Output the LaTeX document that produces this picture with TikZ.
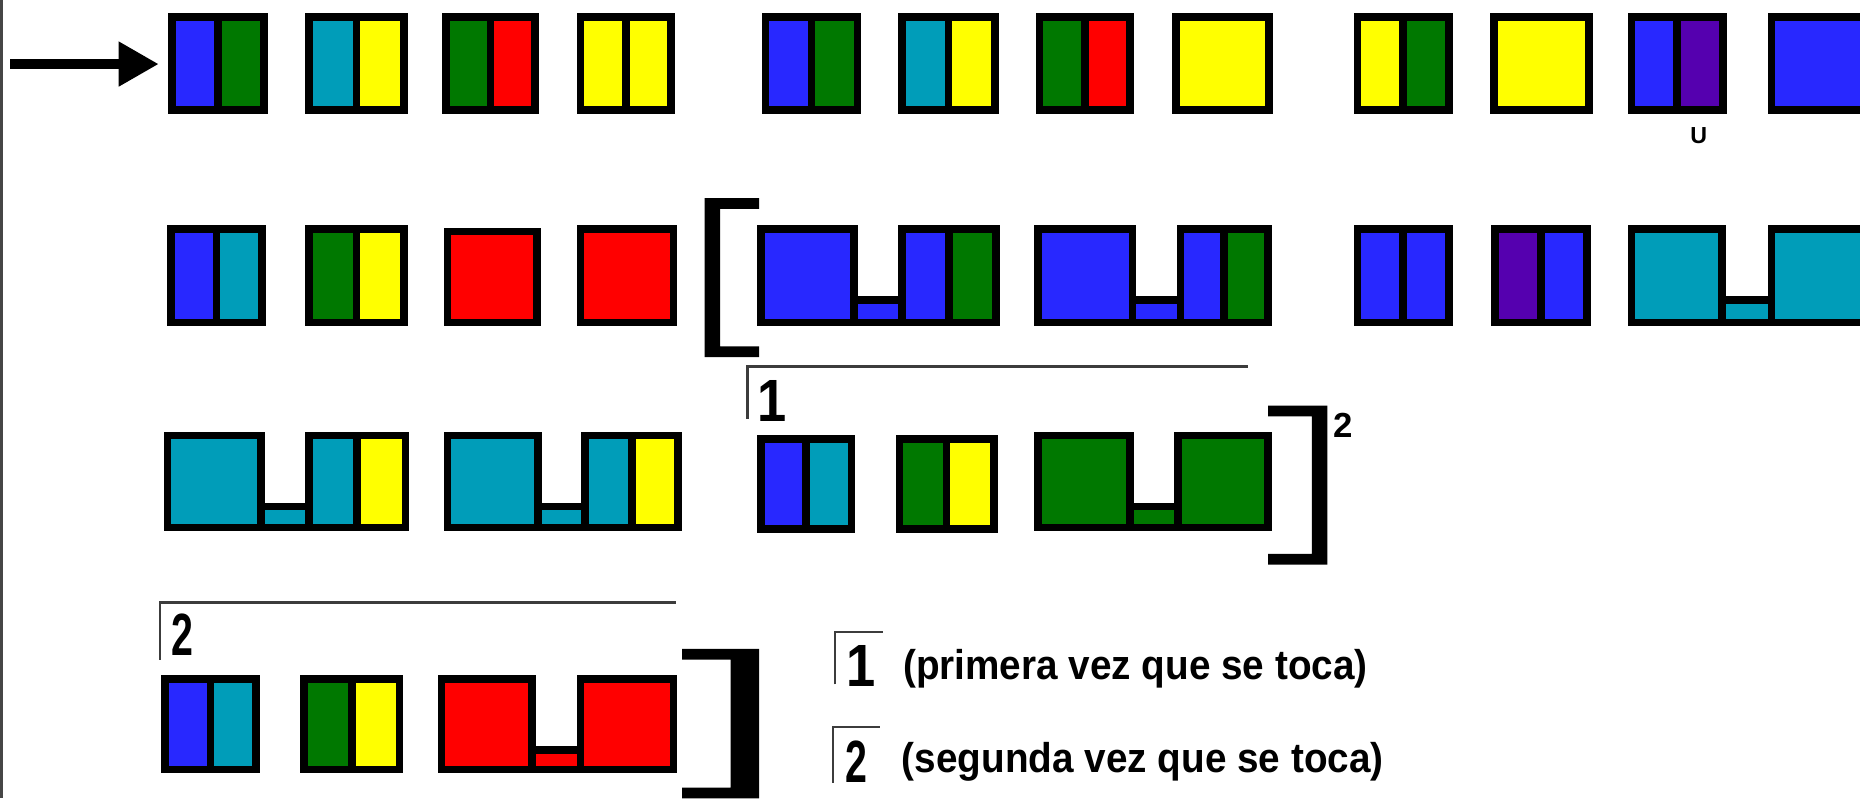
\documentclass[tikz,border=0pt]{standalone}
\usepackage{fontspec}
\setmainfont{Liberation Sans}
\usepackage{graphicx}
\usetikzlibrary{arrows.meta}
\definecolor{cblue}{RGB}{40,40,255}
\definecolor{cgreen}{RGB}{0,120,0}
\definecolor{cteal}{RGB}{0,157,185}
\definecolor{cyellow}{RGB}{255,255,0}
\definecolor{cred}{RGB}{255,0,0}
\definecolor{cpurple}{RGB}{85,0,175}
\definecolor{voltagray}{RGB}{60,60,60}
\definecolor{edgegray}{RGB}{70,70,70}
\tikzset{
  boxline/.style={draw=black, line width=3.85pt, line join=miter},
  volta/.style={draw=voltagray, line width=1.2pt},
  bracketfill/.style={fill=black},
  bigarrow/.style={line width=4.6pt, -{Triangle[length=20pt,width=21.3pt]}},
  voltanum/.style={inner sep=0pt, font=\fontsize{29.8}{30}\selectfont\bfseries},
  supnum/.style={inner sep=0pt, font=\fontsize{17.4}{18}\selectfont\bfseries},
  smalllabel/.style={inner sep=0pt, font=\fontsize{11.6}{12}\selectfont\bfseries},
  legendtext/.style={inner sep=0pt, font=\fontsize{20.8}{21}\selectfont\bfseries},
}
\newcommand\bxhw{3.25}
\newcommand\numone{\scalebox{0.88}[1]{1}}
\newcommand\numtwo{\scalebox{0.66}[1]{2}}
% x1 x2 y1 y2 colour
\newcommand\onebox[5]{%
  \filldraw[boxline, fill=#5] ({#1+\bxhw},{#3+\bxhw}) rectangle ({#2-\bxhw},{#4-\bxhw});}
% x1 x2 y1 y2 left right
\newcommand\twobox[6]{%
  \filldraw[boxline, fill=#5] ({#1+\bxhw},{#3+\bxhw}) rectangle ({(#1+#2)/2},{#4-\bxhw});
  \filldraw[boxline, fill=#6] ({(#1+#2)/2},{#3+\bxhw}) rectangle ({#2-\bxhw},{#4-\bxhw});}
% x1 xa xb x2 y1 y2 colour left right
\newcommand\combtwo[9]{%
  \filldraw[boxline, fill=#7] ({#2-\bxhw},{#5+63}) rectangle ({#3+\bxhw},{#6-\bxhw});
  \onebox{#1}{#2}{#5}{#6}{#7}
  \twobox{#3}{#4}{#5}{#6}{#8}{#9}}
% x1 xa xb x2 y1 y2 colour
\newcommand\combone[7]{%
  \filldraw[boxline, fill=#7] ({#2-\bxhw},{#5+63}) rectangle ({#3+\bxhw},{#6-\bxhw});
  \onebox{#1}{#2}{#5}{#6}{#7}
  \onebox{#3}{#4}{#5}{#6}{#7}}
\begin{document}
\begin{tikzpicture}[x=0.593pt, y=-0.593pt]
\useasboundingbox (0,0) rectangle (1568,673);
\clip (0,0) rectangle (1568,673);
\fill[white] (0,0) rectangle (1568,673);
\fill[edgegray] (0,0) rectangle (2.2,673);

% ---------- row 1 ----------
\twobox{142}{226}{11}{96}{cblue}{cgreen}
\twobox{257}{344}{11}{96}{cteal}{cyellow}
\twobox{373}{454}{11}{96}{cgreen}{cred}
\twobox{486}{569}{11}{96}{cyellow}{cyellow}
\twobox{642}{726}{11}{96}{cblue}{cgreen}
\twobox{757}{842}{11}{96}{cteal}{cyellow}
\twobox{873}{956}{11}{96}{cgreen}{cred}
\onebox{988}{1073}{11}{96}{cyellow}
\twobox{1141}{1225}{11}{96}{cyellow}{cgreen}
\onebox{1256}{1343}{11}{96}{cyellow}
\twobox{1372}{1456}{11}{96}{cblue}{cpurple}
\onebox{1490}{1620}{11}{96}{cblue}
\node[smalllabel] (ulabel) at (1432,114) {U};

\coordinate (tail) at (8.5,54);
\coordinate (box1w) at (142,54);
\draw[bigarrow, shorten >=4.9pt] (tail) -- (box1w);

% ---------- row 2 ----------
\twobox{141}{224}{190}{275}{cblue}{cteal}
\twobox{257}{344}{190}{275}{cgreen}{cyellow}
\onebox{374}{456}{192}{275}{cred}
\onebox{486}{571}{190}{275}{cred}
\fill[bracketfill] (594,167) -- (640,167) -- (640,176) -- (607,176) -- (607,292) -- (640,292) -- (640,301) -- (594,301) -- cycle;
\combtwo{638}{723}{757}{843}{190}{275}{cblue}{cblue}{cgreen}
\combtwo{872}{958}{992}{1072}{190}{275}{cblue}{cblue}{cgreen}
\twobox{1141}{1225}{190}{275}{cblue}{cblue}
\twobox{1257}{1341}{190}{275}{cpurple}{cblue}
\combone{1372}{1455}{1490}{1620}{190}{275}{cteal}

% ---------- row 3 ----------
\combtwo{138}{223}{257}{345}{364}{448}{cteal}{cteal}{cyellow}
\combtwo{374}{457}{490}{575}{364}{448}{cteal}{cteal}{cyellow}
\draw[volta] (630,353) -- (630,309) -- (1052,309);
\node[voltanum, anchor=north] (volta1) at (650.5,320) {\numone};
\twobox{638}{721}{367}{449}{cblue}{cteal}
\twobox{755}{841}{367}{449}{cgreen}{cyellow}
\combone{872}{956}{990}{1072}{364}{448}{cgreen}
\fill[bracketfill] (1119,342) -- (1069,342) -- (1069,351) -- (1106,351) -- (1106,467) -- (1069,467) -- (1069,476) -- (1119,476) -- cycle;
\node[supnum, anchor=north] (times2) at (1132,348) {2};

% ---------- row 4 ----------
\draw[volta] (135,556) -- (135,508) -- (570,508);
\node[voltanum, anchor=north] (volta2) at (154,517) {\numtwo};
\twobox{136}{219}{569}{652}{cblue}{cteal}
\twobox{253}{340}{569}{652}{cgreen}{cyellow}
\combone{369}{452}{486}{571}{569}{652}{cred}
\fill[bracketfill] (640,547) -- (575,547) -- (575,556) -- (616,556) -- (616,664) -- (575,664) -- (575,673) -- (640,673) -- cycle;

% ---------- legend ----------
\draw[volta] (704,577) -- (704,533) -- (744,533);
\node[voltanum, anchor=north] (leg1num) at (725.5,544) {\numone};
\node[legendtext, anchor=west] (leg1) at (761,564) {\scalebox{0.93}[1]{(primera vez que se toca)}};
\draw[volta] (702,660) -- (702,613) -- (742,613);
\node[voltanum, anchor=north] (leg2num) at (722,624) {\numtwo};
\node[legendtext, anchor=west] (leg2) at (760,642) {\scalebox{0.93}[1]{(segunda vez que se toca)}};
\end{tikzpicture}
\end{document}
